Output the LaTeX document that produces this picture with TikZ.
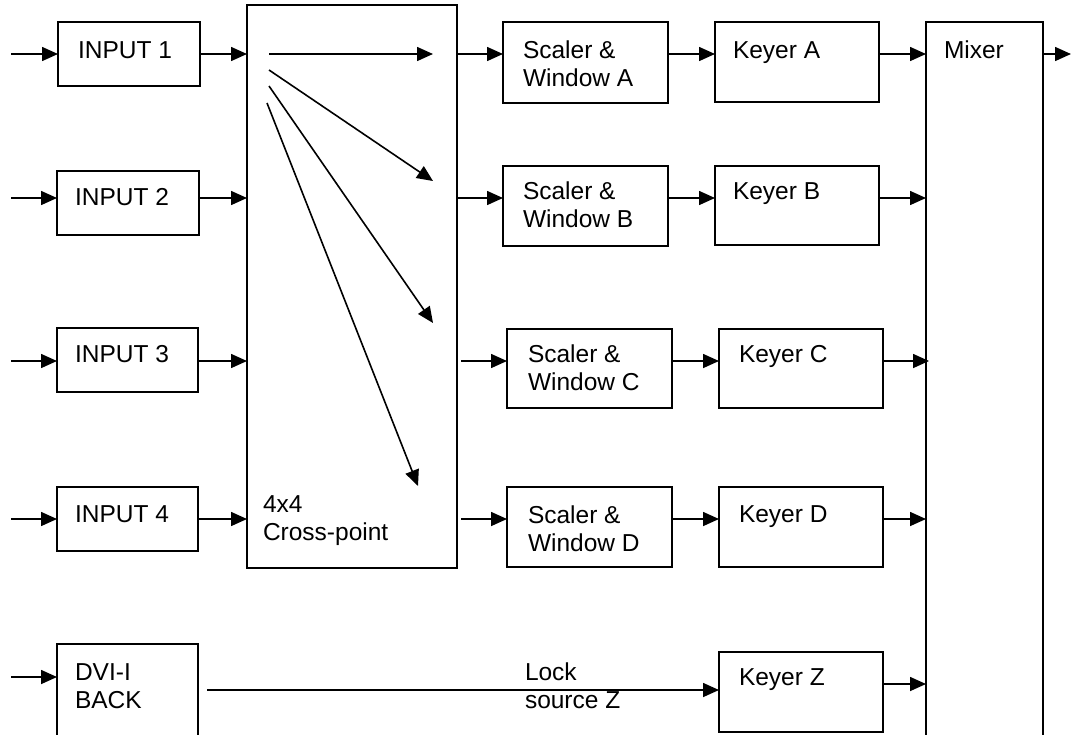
\documentclass[tikz,border=0pt]{standalone}
\usepackage{fontspec}
\setmainfont{Liberation Sans}
\usetikzlibrary{arrows.meta,calc}
\newcommand\twoline[2]{\vtop{\hbox{#1}\hbox{#2}}}
\begin{document}
\begin{tikzpicture}[x=1pt,y=-1pt,
  box/.style={draw, line width=1.8pt, inner sep=0pt, outer sep=0pt},
  arr/.style={line width=1.6pt, -{Triangle[length=16pt,width=14pt]}},
  txt/.style={anchor=base west, inner sep=0pt, outer sep=0pt, font=\fontsize{24.5}{28}\selectfont}]
\useasboundingbox (0,0) rectangle (1071,734);
\clip (0,0) rectangle (1071,734);
% row heights and free ends
\coordinate (rA) at (0,54);
\coordinate (rB) at (0,198);
\coordinate (rC) at (0,361);
\coordinate (rD) at (0,519);
\coordinate (rDin) at (0,677);
\coordinate (rZin) at (0,690);
\coordinate (rZout) at (0,684);
\coordinate (lft) at (11,0);
\coordinate (rgt) at (1071,0);
\coordinate (dvistart) at (207,0);
% boxes
\node[box, minimum width=142pt, minimum height=64pt] (in1) at (129,54) {};
\node[box, minimum width=142pt, minimum height=64pt] (in2) at (128,203) {};
\node[box, minimum width=141pt, minimum height=64pt] (in3) at (127.5,360) {};
\node[box, minimum width=141pt, minimum height=64pt] (in4) at (127.5,519) {};
\node[box, minimum width=141pt, minimum height=116pt] (dvi) at (127.5,702) {};
\node[box, minimum width=210pt, minimum height=563pt] (cp) at (352,286.5) {};
\node[box, minimum width=165pt, minimum height=81pt] (sA) at (585.5,62.5) {};
\node[box, minimum width=165pt, minimum height=80pt] (sB) at (585.5,206) {};
\node[box, minimum width=165pt, minimum height=79pt] (sC) at (589.5,368.5) {};
\node[box, minimum width=165pt, minimum height=80pt] (sD) at (589.5,527) {};
\node[box, minimum width=164pt, minimum height=80pt] (kA) at (797,62) {};
\node[box, minimum width=164pt, minimum height=79pt] (kB) at (797,205.5) {};
\node[box, minimum width=164pt, minimum height=79pt] (kC) at (801,368.5) {};
\node[box, minimum width=164pt, minimum height=80pt] (kD) at (801,527) {};
\node[box, minimum width=164pt, minimum height=80pt] (kZ) at (801,692) {};
\node[box, minimum width=117pt, minimum height=738pt] (mx) at (984.5,391) {};
% texts
\node[txt] (t1) at (78,58) {INPUT 1};
\node[txt] (t2) at (75,205) {INPUT 2};
\node[txt] (t3) at (75,362) {INPUT 3};
\node[txt] (t4) at (75,522) {INPUT 4};
\node[txt] (tdvi) at (75,680) {\twoline{DVI-I}{BACK}};
\node[txt] (tcp) at (263,512) {\twoline{4x4}{Cross-point}};
\node[txt] (tsA) at (523,58) {\twoline{Scaler \&}{Window A}};
\node[txt] (tsB) at (523,199) {\twoline{Scaler \&}{Window B}};
\node[txt] (tsC) at (528,362) {\twoline{Scaler \&}{Window C}};
\node[txt] (tsD) at (528,523) {\twoline{Scaler \&}{Window D}};
\node[txt] (tkA) at (733,58) {Keyer A};
\node[txt] (tkB) at (733,199) {Keyer B};
\node[txt] (tkC) at (739,362) {Keyer C};
\node[txt] (tkD) at (739,522) {Keyer D};
\node[txt] (tkZ) at (739,685) {Keyer Z};
\node[txt] (tmx) at (944,58) {Mixer};
\node[txt] (tlock) at (525,680) {\twoline{Lock}{source Z}};
% input arrows
\draw[arr] (lft |- rA) -- (in1.west |- rA);
\draw[arr] (lft |- rB) -- (in2.west |- rB);
\draw[arr] (lft |- rC) -- (in3.west |- rC);
\draw[arr] (lft |- rD) -- (in4.west |- rD);
\draw[arr] (lft |- rDin) -- (dvi.west |- rDin);
% inputs to cross-point
\draw[arr] (in1.east |- rA) -- (cp.west |- rA);
\draw[arr] (in2.east |- rB) -- (cp.west |- rB);
\draw[arr] (in3.east |- rC) -- (cp.west |- rC);
\draw[arr] (in4.east |- rD) -- (cp.west |- rD);
% inside cross-point
\coordinate (c1s) at (269,54);  \coordinate (c1e) at (433,54);
\coordinate (c2s) at (269,70);  \coordinate (c2e) at (433,181);
\coordinate (c3s) at (269,86);  \coordinate (c3e) at (433,323);
\coordinate (c4s) at (267,103); \coordinate (c4e) at (418,486);
\draw[arr] (c1s) -- (c1e);
\draw[arr] (c2s) -- (c2e);
\draw[arr] (c3s) -- (c3e);
\draw[arr] (c4s) -- (c4e);
% cross-point to scalers
\draw[arr] (cp.east |- rA) -- (sA.west |- rA);
\draw[arr] (cp.east |- rB) -- (sB.west |- rB);
\draw[arr] ([xshift=4pt]cp.east |- rC) -- (sC.west |- rC);
\draw[arr] ([xshift=4pt]cp.east |- rD) -- (sD.west |- rD);
% scalers to keyers
\draw[arr] (sA.east |- rA) -- (kA.west |- rA);
\draw[arr] (sB.east |- rB) -- (kB.west |- rB);
\draw[arr] (sC.east |- rC) -- (kC.west |- rC);
\draw[arr] (sD.east |- rD) -- (kD.west |- rD);
% DVI to keyer Z
\draw[arr] (dvistart |- rZin) -- (kZ.west |- rZin);
% keyers to mixer
\draw[arr] (kA.east |- rA) -- (mx.west |- rA);
\draw[arr] (kB.east |- rB) -- (mx.west |- rB);
\draw[arr] (kC.east |- rC) -- ([xshift=3pt]mx.west |- rC);
\draw[arr] (kD.east |- rD) -- (mx.west |- rD);
\draw[arr] (kZ.east |- rZout) -- (mx.west |- rZout);
% mixer output
\draw[arr] (mx.east |- rA) -- (rgt |- rA);
\end{tikzpicture}
\end{document}
